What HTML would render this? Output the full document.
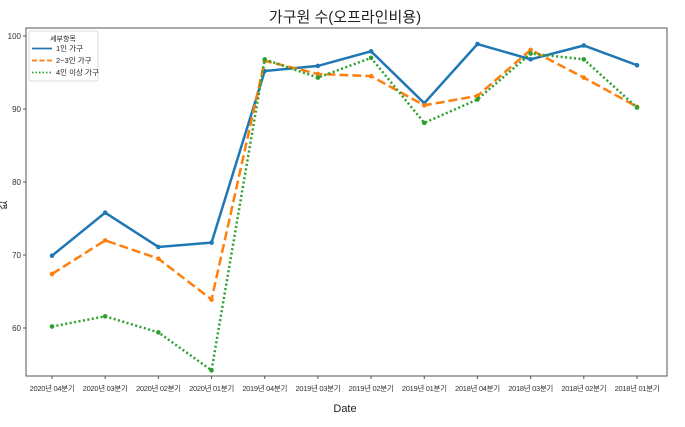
<!DOCTYPE html>
<html><head><meta charset="utf-8"><style>
body{margin:0;background:#fff;font-family:"Liberation Sans","Noto Sans CJK KR",sans-serif;}
svg text{font-family:"Liberation Sans","Noto Sans CJK KR",sans-serif;}
</style></head><body>
<svg id="c" width="685" height="422"></svg>
<script>
const categories=["2020년 04분기","2020년 03분기","2020년 02분기","2020년 01분기","2019년 04분기","2019년 03분기","2019년 02분기","2019년 01분기","2018년 04분기","2018년 03분기","2018년 02분기","2018년 01분기"];
const s1=[69.9,75.8,71.1,71.7,95.2,95.9,97.9,90.8,98.9,96.8,98.7,96.0];
const s2=[67.4,72.0,69.5,63.9,96.6,94.8,94.5,90.5,91.8,98.1,94.3,90.3];
const s3=[60.2,61.6,59.4,54.2,96.8,94.3,97.0,88.1,91.3,97.6,96.8,90.2];
const yTicks=[60,70,80,90,100];
const seriesNames=["1인 가구","2~3인 가구","4인 이상 가구"];
const NS="http://www.w3.org/2000/svg";
const svg=document.getElementById('c');
function el(t,a,p){const e=document.createElementNS(NS,t);for(const k in a)e.setAttribute(k,a[k]);(p||svg).appendChild(e);return e;}
const L=26,R=667,T=28,B=376;
const x=i=>52+i*(637-52)/11;
const y=v=>182-(v-80)*7.3;
let e;
e=el('rect',{x:L,y:T,width:R-L,height:B-T,fill:'none',stroke:'#555','stroke-width':1});

e=el('text',{x:345,y:22,'text-anchor':'middle','font-size':15,fill:'#222'});e.textContent='가구원 수(오프라인비용)';

yTicks.forEach(v=>{
 e=el('line',{x1:L-3,x2:L,y1:y(v),y2:y(v),stroke:'#555'});
 
 e=el('text',{x:L-5,y:y(v)+3,'text-anchor':'end','font-size':8,fill:'#333'});e.textContent=v;
 
});
categories.forEach((c,i)=>{
 e=el('line',{x1:x(i),x2:x(i),y1:B,y2:B+3,stroke:'#555'});
 
 e=el('text',{x:x(i),y:B+15,'text-anchor':'middle','font-size':7.5,'letter-spacing':'-0.3',fill:'#333'});e.textContent=c;
 
});
e=el('text',{x:345,y:412,'text-anchor':'middle','font-size':11,fill:'#222'});e.textContent='Date';

e=el('text',{x:0,y:0,'text-anchor':'middle','font-size':11,fill:'#222',transform:'translate(6,205) rotate(-90)'});e.textContent='값';

const styles=[{c:'#1f77b4',d:'',w:2.5},{c:'#ff7f0e',d:'9,4',w:2.5},{c:'#2ca02c',d:'2,2.5',w:2.5}];
[s1,s2,s3].forEach((s,k)=>{
 e=el('polyline',{points:s.map((v,i)=>x(i)+','+y(v)).join(' '),fill:'none',stroke:styles[k].c,'stroke-width':styles[k].w,'stroke-dasharray':styles[k].d});
 
 s.forEach((v,i)=>{e=el('circle',{cx:x(i),cy:y(v),r:2.3,fill:styles[k].c});
 });
});
const lg=el('g',{});

el('rect',{x:29,y:31,width:69,height:50,fill:'#fff',stroke:'#ddd',rx:2},lg);
e=el('text',{x:63,y:41,'text-anchor':'middle','font-size':7,fill:'#222'},lg);e.textContent='세부항목';
seriesNames.forEach((n,k)=>{
 const yy=51+k*12;
 e=el('line',{x1:32,x2:52,y1:yy-2.5,y2:yy-2.5,stroke:styles[k].c,'stroke-width':1.8,'stroke-dasharray':styles[k].d?(k==1?'5,2.5':'1.5,2'):''},lg);
 
 e=el('text',{x:56,y:yy,'font-size':7.5,fill:'#222'},lg);e.textContent=n;
 
});
</script>
</body></html>
